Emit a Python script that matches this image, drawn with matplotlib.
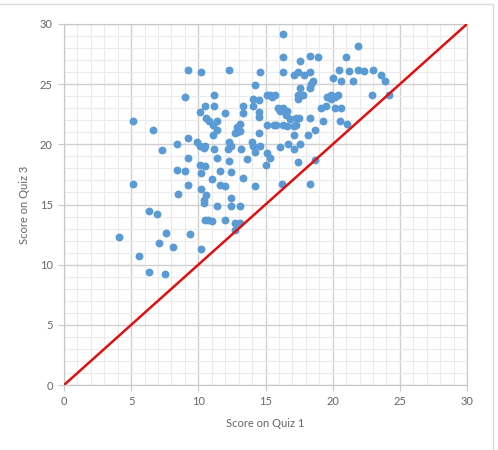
import numpy as np
import matplotlib
matplotlib.use("Agg")
import matplotlib.pyplot as plt
from matplotlib.patches import Rectangle
from matplotlib.ticker import MultipleLocator

# scores (quiz 1, quiz 3)
quiz1 = [4.1, 5.15, 5.15, 5.6, 6.35, 6.9, 6.35, 6.65, 7.1, 7.3, 7.55, 7.6, 8.1, 8.4, 8.4, 8.5,
         9.0, 9.25, 9.25, 9.25, 9.0, 9.25, 9.4, 9.9, 10.1, 10.5, 10.4, 10.2, 10.1, 10.5, 11.2,
         11.2, 10.6, 10.8, 11.4, 11.1, 11.4, 11.1, 11.2, 10.1, 10.5, 10.2, 11.4, 11.6, 11.0,
         11.6, 12.0, 10.2, 10.6, 10.4, 10.4, 11.4, 12.4, 13.1, 12.4, 10.5, 10.7, 11.0, 12.0,
         12.7, 13.1, 12.7, 10.2, 12.26, 12.0, 12.3, 12.2, 12.4, 12.3, 12.4, 12.9, 13.1, 12.9,
         13.1, 12.7, 13.3, 13.3, 13.2, 13.65, 13.3, 14.6, 14.2, 14.1, 14.5, 14.1, 14.5, 14.5,
         14.5, 14.0, 14.1, 14.6, 14.2, 14.2, 15.1, 15.3, 15.7, 15.5, 15.1, 15.6, 15.8, 16.3,
         16.6, 17.1, 17.3, 15.1, 15.3, 15.0, 16.3, 16.3, 16.3, 15.9, 16.3, 16.6, 16.1, 16.5,
         16.8, 17.3, 17.5, 16.65, 16.1, 17.6, 17.1, 17.1, 16.2, 17.4, 17.1, 17.4, 17.9, 18.3,
         17.6, 18.3, 18.9, 17.6, 17.4, 17.4, 17.8, 18.5, 18.4, 18.3, 18.3, 18.2, 18.7, 18.7,
         18.3, 19.6, 19.9, 20.2, 20.4, 19.9, 19.1, 19.5, 20.2, 20.6, 19.3, 20.55, 21.05, 20.0,
         20.6, 21.5, 20.5, 21.2, 21.9, 22.3, 21.0, 21.9, 23.0, 23.6, 23.9, 22.95, 24.2]
quiz3 = [12.3, 16.7, 21.9, 10.7, 14.5, 14.2, 9.4, 21.2, 11.8, 19.5, 9.2, 12.6, 11.45, 20.0, 17.9,
         15.9, 23.9, 26.2, 20.5, 18.9, 17.8, 16.6, 12.55, 20.2, 19.9, 19.9, 19.7, 26.0, 22.7,
         23.2, 23.2, 24.1, 22.2, 21.9, 21.9, 21.6, 21.2, 20.8, 19.6, 18.3, 18.2, 17.6, 18.9,
         17.8, 17.1, 16.6, 16.5, 16.25, 15.8, 15.4, 15.1, 14.9, 14.9, 14.9, 15.55, 13.7, 13.7,
         13.6, 13.7, 13.5, 13.5, 12.9, 11.3, 26.2, 22.6, 20.2, 19.6, 19.9, 18.6, 17.7, 21.4,
         21.7, 21.0, 21.1, 20.9, 23.2, 22.6, 19.6, 18.8, 17.2, 26.0, 24.9, 23.8, 23.7, 23.2,
         22.7, 22.3, 20.9, 20.2, 19.9, 19.9, 19.4, 16.5, 24.1, 24.1, 24.1, 23.9, 21.6, 21.6,
         21.6, 21.6, 21.5, 21.5, 21.6, 19.25, 18.9, 18.3, 29.2, 27.25, 26.0, 23.0, 23.0, 22.8,
         22.8, 22.4, 22.1, 22.2, 22.2, 20.0, 19.8, 20.0, 19.6, 20.8, 16.7, 18.5, 25.8, 26.0,
         25.8, 26.0, 26.9, 27.3, 27.25, 24.7, 24.1, 23.8, 24.1, 25.3, 25.0, 24.7, 22.2, 20.8,
         21.2, 18.7, 16.7, 23.95, 24.1, 23.95, 24.1, 23.75, 23.0, 23.2, 23.0, 23.0, 21.9, 21.9,
         21.7, 25.55, 25.25, 25.25, 26.2, 26.1, 26.2, 26.1, 27.25, 28.2, 26.2, 25.8, 25.25,
         24.1, 24.1]
line_x = [0, 30]
line_y = [0, 30]

plt.rcParams['font.family'] = ['Lato', 'DejaVu Sans']

fig = plt.figure(figsize=(4.98, 4.5), dpi=100)
ax = fig.add_axes([0.1285, 0.1444, 0.8093, 0.8023])

ax.scatter(quiz1, quiz3, s=32, color='#5b9bd5', zorder=3, linewidths=0)
ax.plot(line_x, line_y, color='#e01010', lw=1.8, zorder=4)

ax.set_xlim(0, 30)
ax.set_ylim(0, 30)
ax.xaxis.set_major_locator(MultipleLocator(5))
ax.yaxis.set_major_locator(MultipleLocator(5))
ax.xaxis.set_minor_locator(MultipleLocator(1))
ax.yaxis.set_minor_locator(MultipleLocator(1))
ax.grid(which='major', color='#d0d0d0', lw=1.0, zorder=1)
ax.grid(which='minor', color='#ebebeb', lw=0.8, zorder=0)
ax.set_axisbelow(True)
for s in ax.spines.values():
    s.set_color('#c8c8c8')
    s.set_linewidth(0.8)

ax.tick_params(which='major', length=4, color='#c8c8c8', labelsize=8,
               labelcolor='#666666', pad=4)
ax.tick_params(which='minor', length=0)

ax.set_xlabel('Score on Quiz 1', fontsize=8, color='#666666', labelpad=8)
ax.set_ylabel('Score on Quiz 3', fontsize=8, color='#666666', labelpad=7)

# light frame around the chart area
fig.patches.append(Rectangle((-0.01, -0.01), 1.0, 1.001, transform=fig.transFigure,
                             fill=False, edgecolor='#d9d9d9', lw=1.0))

fig.savefig('out.png', dpi=100)
